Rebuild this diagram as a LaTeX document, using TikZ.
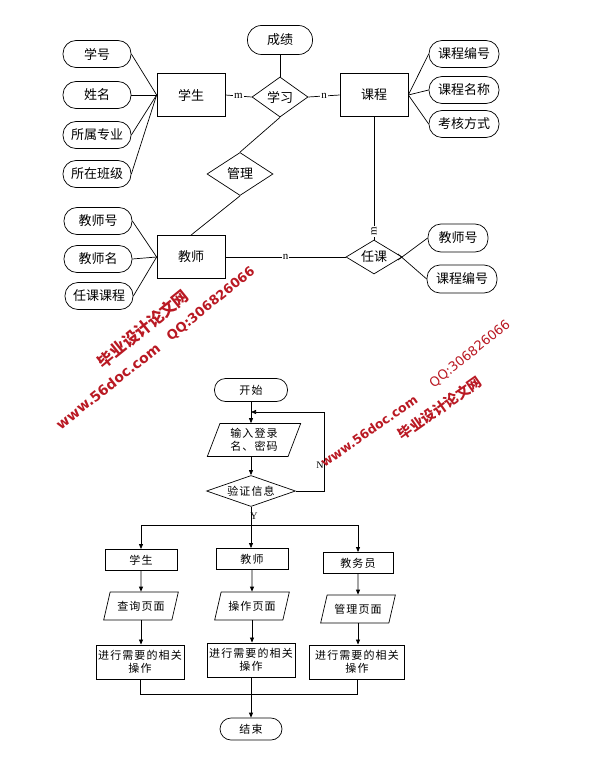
\documentclass[tikz,border=0pt]{standalone}
\usepackage{fontspec}
\setmainfont{Liberation Serif}
\newfontfamily\cjk{Noto Sans CJK SC}
\newfontfamily\cjkw[LetterSpace=10]{Noto Sans CJK SC}
\newfontfamily\wmsans{DejaVu Sans}
\usetikzlibrary{shapes.geometric,arrows.meta}
\definecolor{wmred}{RGB}{185,25,35}
\begin{document}
\begin{tikzpicture}[x=1pt,y=-1pt,
  ln/.style={line width=0.7pt},
  attr/.style={draw,ln,rounded corners=13pt,minimum width=68pt,minimum height=27pt,inner sep=1pt,font=\cjk\fontsize{13}{15}\selectfont},
  ent/.style={draw,ln,minimum width=68pt,minimum height=43pt,inner sep=1pt,font=\cjk\fontsize{13}{15}\selectfont},
  rel/.style={draw,ln,diamond,inner sep=0pt,minimum width=56pt,minimum height=40pt,shape aspect=1.4,font=\cjk\fontsize{13}{15}\selectfont},
  card/.style={fill=white,inner sep=1pt,font=\fontsize{11}{12}\selectfont},
  term/.style={draw,ln,rounded corners=11pt,minimum width=73pt,minimum height=23pt,inner sep=1pt,font=\cjkw\fontsize{11}{13}\selectfont},
  fbox/.style={draw,line width=0.9pt,minimum width=72pt,minimum height=21pt,inner sep=1pt,font=\cjkw\fontsize{11}{13}\selectfont},
  obox/.style={draw,line width=0.9pt,minimum width=88pt,minimum height=34pt,inner sep=1pt,align=center,font=\cjkw\fontsize{11}{13}\selectfont},
  io/.style={draw,ln,trapezium,trapezium stretches=true,trapezium left angle=67,trapezium right angle=113,minimum width=75pt,minimum height=28pt,inner sep=1pt,align=center,font=\cjkw\fontsize{11}{13}\selectfont},
  arr/.style={ln,-{Triangle[length=5pt,width=4pt]}},
  lbl/.style={inner sep=0pt,font=\fontsize{10}{11}\selectfont},
  wm/.style={text=wmred,inner sep=0pt}
]
\useasboundingbox (0,0) rectangle (589,762);

% ---------------- ER diagram ----------------
\node[attr] (xh) at (97,54) {学号};
\node[attr] (xm) at (97,95) {姓名};
\node[attr] (zy) at (97,135) {所属专业};
\node[attr] (bj) at (97,174) {所在班级};
\node[ent] (xs) at (191,95) {学生};
\node[rel] (xx) at (280,97) {学习};
\node[attr,minimum width=65pt,minimum height=29pt,rounded corners=14pt] (cj) at (280,40) {成绩};
\node[ent] (kc) at (374,95) {课程};
\node[attr,minimum width=70pt] (kbh) at (464,54) {课程编号};
\node[attr,minimum width=70pt] (kmc) at (464,90) {课程名称};
\node[attr,minimum width=70pt] (khfs) at (464,124) {考核方式};
\node[rel,minimum width=66pt,minimum height=43pt,shape aspect=1.5] (gl) at (240,174) {管理};
\node[ent] (js) at (191,257) {教师};
\node[attr] (jsh) at (98,221) {教师号};
\node[attr] (jsm) at (98,259) {教师名};
\node[attr] (rkkc) at (99,296) {任课课程};
\node[rel,minimum height=34pt,shape aspect=1.65] (rk) at (374,257) {任课};
\node[attr,minimum width=60pt,minimum height=28pt] (jsh2) at (458,238) {教师号};
\node[attr,minimum width=70pt,minimum height=28pt] (kbh2) at (462,279) {课程编号};
\coordinate (rkA) at (398,260);
\coordinate (rkB) at (398,254);

\draw[ln] (xh.east) -- (xs.west);
\draw[ln] (xm.east) -- (xs.west);
\draw[ln] (zy.east) -- (xs.west);
\draw[ln] (bj.east) -- (xs.west);
\draw[ln] (xs.east) -- node[card]{m} (xx.west);
\draw[ln] (xx.east) -- node[card]{n} (kc.west);
\draw[ln] (cj.south) -- (xx.north);
\draw[ln] (kc.east) -- (kbh.west);
\draw[ln] (kc.east) -- (kmc.west);
\draw[ln] (kc.east) -- (khfs.west);
\draw[ln] (xx.south) -- (gl.north);
\draw[ln] (gl.south) -- (js.north);
\draw[ln] (jsh.east) -- (js.west);
\draw[ln] (jsm.east) -- (js.west);
\draw[ln] (rkkc.east) -- (js.west);
\draw[ln] (js.east) -- node[card]{n} (rk.west);
\draw[ln] (kc.south) -- node[pos=0.935,card,rotate=90]{m} (rk.north);
\draw[ln] (jsh2.west) -- (rkA);
\draw[ln] (kbh2.west) -- (rkB);

% ---------------- Flowchart ----------------
\node[term] (st) at (251,390) {开始};
\node[io,minimum width=94pt,minimum height=33pt,trapezium left angle=70,trapezium right angle=110] (in) at (254,440) {输入登录\\名、密码};
\node[rel,minimum width=89pt,minimum height=31pt,shape aspect=2.9,font=\cjkw\fontsize{11}{13}\selectfont] (v) at (251,491) {验证信息};
\coordinate (lp) at (324,412);
\coordinate (lq) at (251,412);
\coordinate (hc) at (251,525);
\node[lbl] (N) at (320,465) {N};
\node[lbl] (Y) at (254,516) {Y};

\node[fbox] (r1) at (141,560) {学生};
\node[fbox] (r2) at (252,559) {教师};
\node[fbox,minimum width=70pt] (r3) at (358,563) {教务员};
\node[io] (p1) at (141,606) {查询页面};
\node[io] (p2) at (252,606) {操作页面};
\node[io] (p3) at (358,609) {管理页面};
\node[obox] (b1) at (140,662) {进行需要的相关\\操作};
\node[obox] (b2) at (251,660) {进行需要的相关\\操作};
\node[obox,minimum width=95pt] (b3) at (357,662) {进行需要的相关\\操作};
\node[term,minimum width=62pt,minimum height=22pt] (en) at (251,729) {结束};
\coordinate (jn) at (251,694);

\draw[arr] (st.south) -- (st.south |- in.north);
\draw[arr] (st.south |- in.south) -- (v.north);
\draw[arr] (v.east) -| (lp) -- (lq);
\draw[arr] (v.south) -- (v.south |- r2.north);
\draw[ln] (r1.north |- hc) -- (r3.north |- hc);
\draw[arr] (hc) -| (r1.north);
\draw[arr] (hc) -| (r3.north);
\draw[arr] (r1.south) -- (p1.north);
\draw[arr] (r2.south) -- (p2.north);
\draw[arr] (r3.south) -- (p3.north);
\draw[arr] (p1.south) -- (p1.south |- b1.north);
\draw[arr] (p2.south) -- (p2.south |- b2.north);
\draw[arr] (p3.south) -- (p3.south |- b3.north);
\draw[ln] (b1.south) |- (jn);
\draw[ln] (b3.south) |- (jn);
\draw[arr] (b2.south) -- (en.north);

% ---------------- Watermarks ----------------
\node[wm,rotate=38.5,font=\wmsans\bfseries\fontsize{14}{15}\selectfont] (w1) at (108,386) {www.56doc.com};
\node[wm,rotate=39,font=\cjk\bfseries\fontsize{16}{17}\selectfont] (w2) at (143,329) {毕业设计论文网};
\node[wm,rotate=39,font=\wmsans\bfseries\fontsize{13}{14}\selectfont] (w3) at (211,304) {QQ:306826066};
\node[wm,rotate=35,font=\wmsans\bfseries\fontsize{12.5}{13}\selectfont] (w4) at (369,431) {www.56doc.com};
\node[wm,rotate=39,font=\wmsans\fontsize{13}{14}\selectfont] (w5) at (470,354) {QQ:306826066};
\node[wm,rotate=35,font=\cjk\bfseries\fontsize{14}{15}\selectfont] (w6) at (440,408) {毕业设计论文网};
\end{tikzpicture}
\end{document}
